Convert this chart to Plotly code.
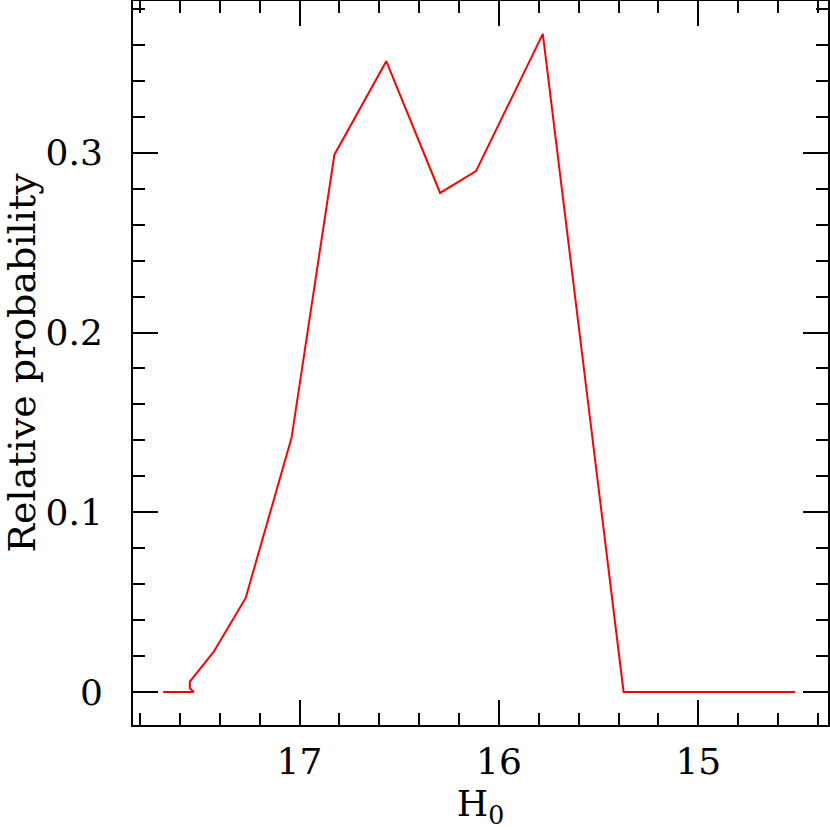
import plotly.graph_objects as go

# H0 grid and relative probability
h0 = [17.684, 17.53, 17.55, 17.55, 17.43, 17.27, 17.04, 16.825, 16.565,
      16.295, 16.115, 15.78, 15.375, 14.515]
prob = [0.0, 0.0, 0.002, 0.0057, 0.0224, 0.0523, 0.1414, 0.299, 0.351,
        0.2777, 0.2898, 0.3662, 0.0, 0.0]

x_ticks = [17, 16, 15]
y_ticks = [0, 0.1, 0.2, 0.3]
y_labels = ["0", "0.1", "0.2", "0.3"]

font = dict(family="DejaVu Serif", size=36, color="black")
title_font = dict(family="DejaVu Serif", size=38, color="black")

fig = go.Figure()
fig.add_trace(go.Scatter(x=h0, y=prob, mode="lines",
                         line=dict(color="red", width=2), showlegend=False))

axis_common = dict(
    showgrid=False, zeroline=False, showline=True, linecolor="black",
    linewidth=2, mirror="ticks", ticks="inside", tickcolor="black",
    tickwidth=2, ticklen=25, tickfont=font, automargin=False,
)

fig.update_layout(
    width=830, height=830,
    plot_bgcolor="white", paper_bgcolor="white",
    margin=dict(l=133, r=2, t=1, b=105),
    font=font,
    xaxis=dict(axis_common, range=[17.835, 14.35], tickvals=x_ticks,
               ticktext=[str(v) for v in x_ticks],
               minor=dict(dtick=0.2, tick0=15, ticks="inside", ticklen=12,
                          tickwidth=2, tickcolor="black"),
               title=dict(text="H<sub>0</sub>", font=font, standoff=17),
               ticklabelstandoff=4),
    yaxis=dict(axis_common, range=[-0.0184, 0.3845], tickvals=y_ticks,
               ticktext=y_labels,
               minor=dict(dtick=0.02, tick0=0, ticks="inside", ticklen=12,
                          tickwidth=2, tickcolor="black"),
               title=dict(text="Relative probability", font=title_font,
                          standoff=32),
               ticklabelstandoff=21),
)

# drop the default body margin so the figure sits at the window corner
fig.write_html("out.html", config={"displayModeBar": False},
               post_script="document.body.style.margin='0';")
